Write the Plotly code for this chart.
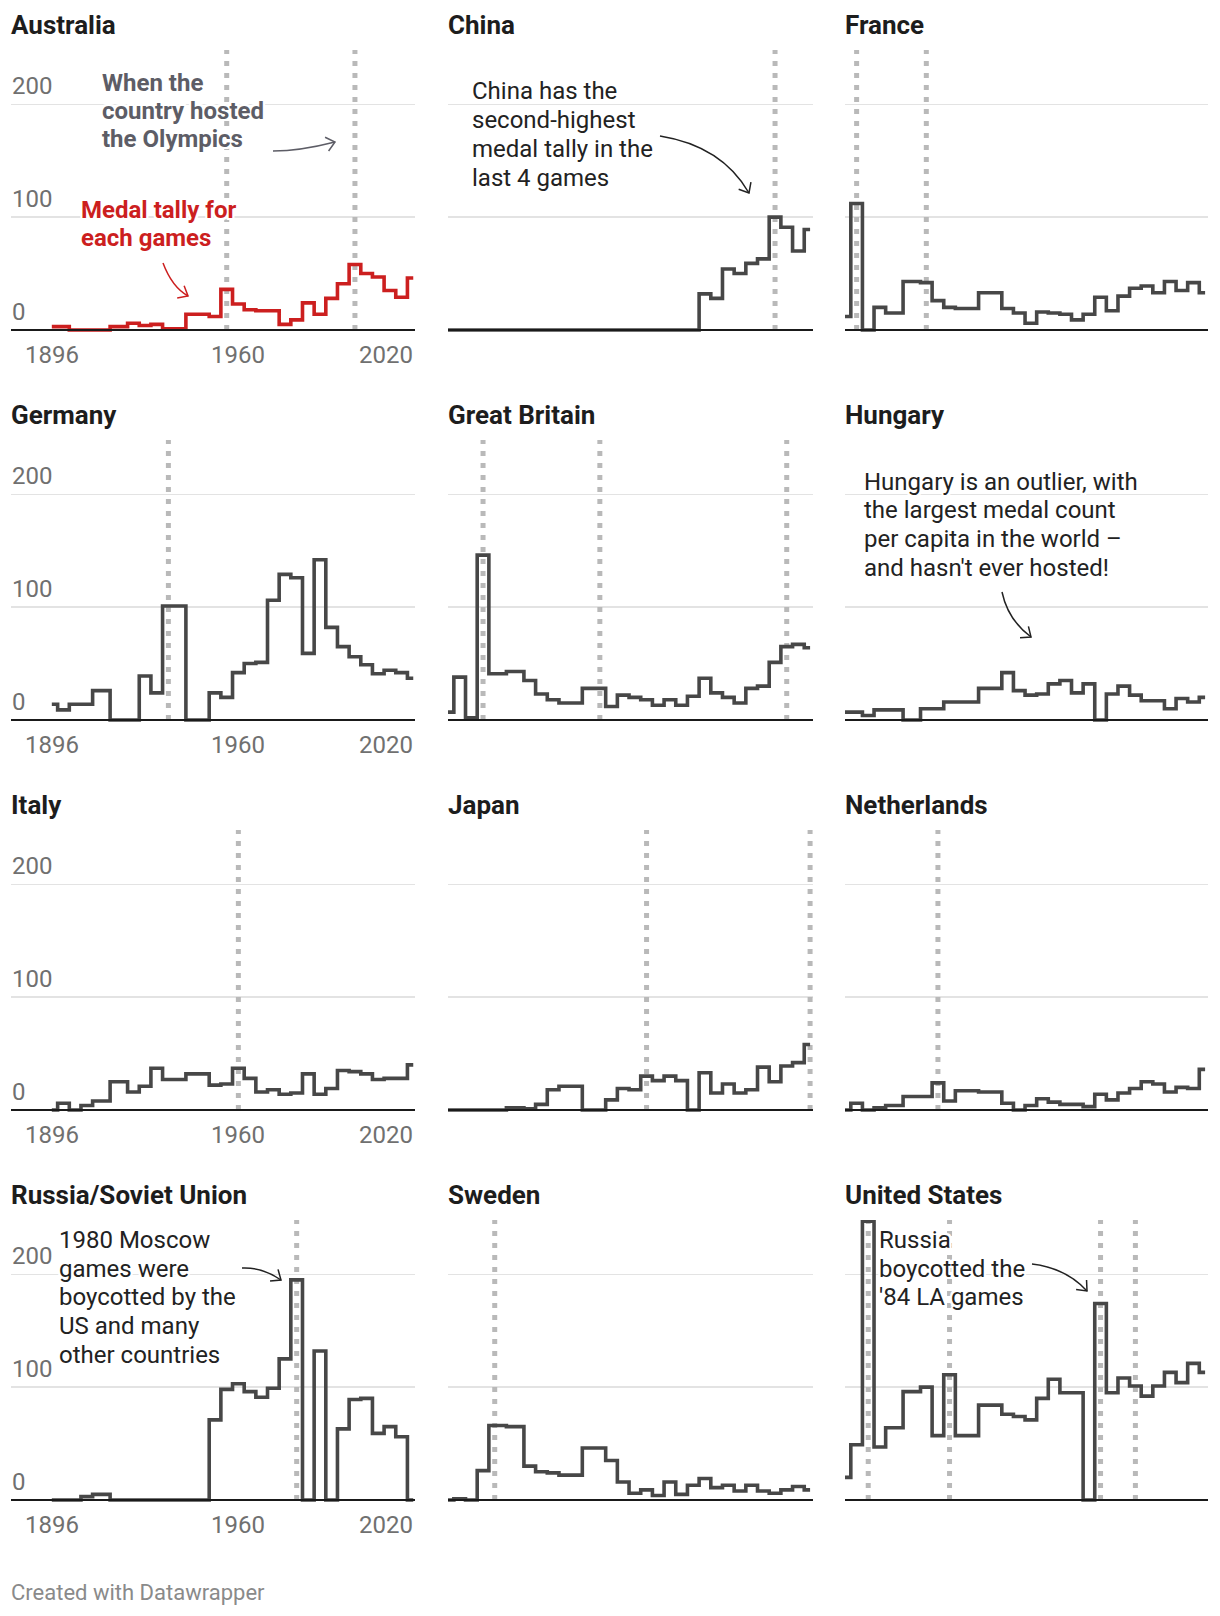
import math
import plotly.graph_objects as go

W, H = 1220, 1616

# ---------------- data ----------------
YEARS = [1896, 1900, 1904, 1908, 1912, 1920, 1924, 1928, 1932, 1936, 1948, 1952,
         1956, 1960, 1964, 1968, 1972, 1976, 1980, 1984, 1988, 1992, 1996, 2000,
         2004, 2008, 2012, 2016, 2020]

COUNTRIES = ["Australia", "China", "France", "Germany", "Great Britain", "Hungary",
             "Italy", "Japan", "Netherlands", "Russia/Soviet Union", "Sweden",
             "United States"]

australia = [3, 3, 0, 0, 0, 3, 6, 4, 5, 1, 14, 12, 36, 23, 18, 17, 17, 5, 9, 24, 14,
             28, 41, 58, 50, 47, 35, 29, 46]
china = [0, 0, 0, 0, 0, 0, 0, 0, 0, 0, 0, 0, 0, 0, 0, 0, 0, 0, 0, 32, 28, 54, 50, 59,
         63, 100, 91, 70, 89]
france = [12, 112, 0, 20, 15, 43, 42, 26, 20, 19, 33, 19, 15, 6, 16, 15, 14, 9, 14, 29,
          17, 30, 37, 39, 33, 43, 35, 42, 33]
germany = [14, 9, 14, 14, 26, 0, 0, 39, 24, 101, 0, 24, 20, 42, 50, 51, 106, 129, 126,
           59, 142, 82, 65, 56, 49, 41, 44, 42, 37]
great_britain = [7, 38, 2, 146, 41, 43, 35, 23, 18, 15, 28, 12, 22, 20, 18, 13, 18, 13,
                 21, 37, 24, 20, 15, 28, 30, 51, 65, 67, 64]
hungary = [7, 7, 4, 9, 9, 0, 10, 10, 16, 16, 28, 42, 26, 22, 23, 32, 35, 24, 32, 0, 23,
           30, 22, 17, 17, 10, 19, 16, 20]
italy = [0, 6, 0, 4, 8, 25, 16, 21, 37, 27, 32, 22, 23, 37, 28, 16, 18, 14, 15, 32, 14,
         19, 35, 34, 32, 27, 28, 28, 40]
japan = [0, 0, 0, 0, 0, 2, 1, 5, 18, 21, 0, 9, 19, 18, 30, 26, 30, 26, 0, 33, 15, 23,
         15, 18, 38, 25, 39, 42, 58]
netherlands = [0, 6, 0, 2, 4, 12, 12, 24, 8, 17, 16, 6, 0, 4, 10, 7, 5, 5, 3, 14, 9, 15,
               19, 25, 23, 16, 20, 19, 36]
russia = [0, 0, 0, 3, 5, 0, 0, 0, 0, 0, 0, 71, 98, 103, 96, 91, 99, 125, 195, 0, 132,
          0, 63, 89, 90, 59, 65, 56, 0]
sweden = [0, 1, 0, 26, 66, 65, 30, 25, 24, 22, 46, 35, 16, 6, 9, 4, 16, 5, 13, 19, 11,
          13, 8, 13, 8, 6, 9, 12, 9]
united_states = [20, 49, 247, 47, 64, 96, 100, 57, 111, 57, 84, 76, 74, 71, 90, 107, 95,
                 95, 0, 174, 95, 108, 101, 92, 101, 113, 104, 121, 113]

HOSTS = {
    "Australia": [1956, 2000],
    "China": [2008],
    "France": [1900, 1924],
    "Germany": [1936],
    "Great Britain": [1908, 1948, 2012],
    "Hungary": [],
    "Italy": [1960],
    "Japan": [1964, 2020],
    "Netherlands": [1928],
    "Russia/Soviet Union": [1980],
    "Sweden": [1912],
    "United States": [1904, 1932, 1984, 1996],
}

SERIES = [australia, china, france, germany, great_britain, hungary, italy, japan,
          netherlands, russia, sweden, united_states]

X_TICKS = [1896, 1960, 2020]
X_TICKTEXT = ["1896", "1960", "2020"]
Y_TICKS = [0, 100, 200]
Y_TICKTEXT = ["0", "100", "200"]
Y_MAX = 248

# ---------------- layout helpers (pixels -> paper) ----------------
COL_PX = [(11, 415), (448, 813), (845, 1208)]
COL_RANGE = [(1882, 2020.6), (1896, 2021), (1896, 2021)]
TITLE_X = [9, 446, 843]
ROW_BASE = [330, 720, 1110, 1500]
PLOT_H = 280
Y_MIN = -3
PX_PER_UNIT = PLOT_H / Y_MAX


def px_x(x):
    return x / W


def px_y(y):
    return 1 - y / H


FONT = "Roboto"
LINE_COLOR = "#474747"
RED = "#cc1f1f"
TICK_COLOR = "#707070"
HOST_COLOR = "#b9b9b9"
HALO = ("2px 2px 0 #fff, -2px -2px 0 #fff, 2px -2px 0 #fff, -2px 2px 0 #fff, "
        "0 2px 0 #fff, 0 -2px 0 #fff, 2px 0 0 #fff, -2px 0 0 #fff")

fig = go.Figure()
layout = dict(
    width=W, height=H, autosize=False,
    margin=dict(l=0, r=0, t=0, b=0, autoexpand=False),
    paper_bgcolor="white", plot_bgcolor="white",
    font=dict(family=FONT, color="#222222"),
    showlegend=False,
)
shapes = []
annotations = []

for i, (name, vals) in enumerate(zip(COUNTRIES, SERIES)):
    r, c = divmod(i, 3)
    n = i + 1
    xs = "x" if n == 1 else f"x{n}"
    ys = "y" if n == 1 else f"y{n}"
    xk = "xaxis" if n == 1 else f"xaxis{n}"
    yk = "yaxis" if n == 1 else f"yaxis{n}"
    base = ROW_BASE[r]
    top = base - PLOT_H
    bottom = base - Y_MIN * PX_PER_UNIT
    x0p, x1p = COL_PX[c]

    fig.add_trace(go.Scatter(
        x=YEARS, y=vals, mode="lines",
        line=dict(shape="hvh", color=RED if name == "Australia" else LINE_COLOR,
                  width=3.6),
        xaxis=xs, yaxis=ys, hoverinfo="skip",
    ))

    layout[xk] = dict(
        domain=[px_x(x0p), px_x(x1p)], range=list(COL_RANGE[c]), anchor=ys,
        showgrid=False, zeroline=False, showline=False, ticks="",
        tickvals=X_TICKS, ticktext=X_TICKTEXT, showticklabels=False,
        automargin=False, fixedrange=True,
    )
    layout[yk] = dict(
        domain=[px_y(bottom), px_y(top)], range=[Y_MIN, Y_MAX], anchor=xs,
        tickvals=Y_TICKS, ticktext=Y_TICKTEXT, showgrid=True,
        gridcolor="#e3e3e3", gridwidth=1.3, zeroline=False, showline=False,
        ticks="", showticklabels=False, automargin=False, fixedrange=True,
    )

    # tick labels (first column only), placed through the axes' scales
    if c == 0:
        for v, t in zip(X_TICKS, X_TICKTEXT):
            last = v == X_TICKS[-1]
            annotations.append(dict(
                text=t, xref=xs, x=v, yref="paper", y=px_y(base + 25),
                xanchor="right" if last else "center", xshift=2 if last else 0,
                yanchor="middle", showarrow=False,
                font=dict(family=FONT, size=24, color=TICK_COLOR),
            ))
        for v, t in zip(Y_TICKS, Y_TICKTEXT):
            annotations.append(dict(
                text=t, xref="paper", x=px_x(10), yref=ys, y=v, yshift=18.5,
                xanchor="left", yanchor="middle", showarrow=False,
                font=dict(family=FONT, size=24, color=TICK_COLOR),
            ))

    # host-year dotted lines
    for hy in HOSTS[name]:
        shapes.append(dict(
            type="line", xref=xs, yref=ys, x0=hy, x1=hy, y0=0, y1=Y_MAX,
            line=dict(color=HOST_COLOR, width=5, dash="5px,7px"), layer="between",
        ))
    # baseline
    shapes.append(dict(
        type="line", xref=f"{xs} domain", yref=ys, x0=0, x1=1, y0=0, y1=0,
        line=dict(color="#1a1a1a", width=2), layer="above",
    ))

    # panel title
    annotations.append(dict(
        text=name, xref="paper", yref="paper", x=px_x(TITLE_X[c]),
        y=px_y(25 + 390 * r), xanchor="left", yanchor="middle", showarrow=False,
        font=dict(family=FONT, size=26, color="#1d1d1d", weight=700),
    ))


def note(lines, left, first, step=28.7, color="#222222", weight=400, size=24):
    for k, t in enumerate(lines):
        annotations.append(dict(
            text=t, xref="paper", yref="paper", x=px_x(left),
            y=px_y(first + k * step), xanchor="left", yanchor="middle",
            align="left", showarrow=False,
            font=dict(family=FONT, size=size, color=color, weight=weight,
                      shadow=HALO),
        ))


def arrow(p0, ctrl, p1, color="#222222", width=1.5, head=11, ang=40):
    dx, dy = p1[0] - ctrl[0], p1[1] - ctrl[1]
    L = math.hypot(dx, dy)
    bx, by = -dx / L, -dy / L
    arms = []
    for s in (1, -1):
        a = math.radians(ang * s)
        rx = bx * math.cos(a) - by * math.sin(a)
        ry = bx * math.sin(a) + by * math.cos(a)
        arms.append((p1[0] + head * rx, p1[1] + head * ry))

    def P(q):
        return f"{px_x(q[0]):.5f},{px_y(q[1]):.5f}"

    for path in (f"M {P(p0)} Q {P(ctrl)} {P(p1)}",
                 f"M {P(arms[0])} L {P(p1)} L {P(arms[1])}"):
        shapes.append(dict(type="path", xref="paper", yref="paper", path=path,
                           line=dict(color=color, width=width),
                           fillcolor="rgba(0,0,0,0)", layer="above"))


# Australia
note(["When the", "country hosted", "the Olympics"], 100, 82.5, step=28.4,
     color="#5d5d66", weight=700)
arrow((273, 151), (300, 151), (335, 142), color="#5d5d66")
note(["Medal tally for", "each games"], 79, 209.5, step=28.5, color=RED, weight=700)
arrow((163, 263), (172, 287), (188, 296), color=RED)
# China
note(["China has the", "second-highest", "medal tally in the", "last 4 games"],
     470, 91.5)
arrow((660, 136), (722, 146), (749, 193))
# Hungary
note(["Hungary is an outlier, with", "the largest medal count",
      "per capita in the world \u2013", "and hasn't ever hosted!"], 862, 481.5)
arrow((1002, 592), (1008, 620), (1031, 637))
# Russia
note(["1980 Moscow", "games were", "boycotted by the", "US and many",
      "other countries"], 57, 1240)
arrow((242, 1268), (262, 1267), (281, 1280))
# United States
note(["Russia", "boycotted the", "'84 LA games"], 877, 1240)
arrow((1032, 1264), (1066, 1268), (1087, 1291))

# footer
annotations.append(dict(
    text="Created with Datawrapper", xref="paper", yref="paper", x=px_x(9),
    y=px_y(1592), xanchor="left", yanchor="middle", showarrow=False,
    font=dict(family=FONT, size=22, color="#8a8a8a"),
))

layout["shapes"] = shapes
layout["annotations"] = annotations
fig.update_layout(**layout)

fig.write_html(
    "out.html",
    config={"displayModeBar": False, "staticPlot": True},
    post_script="document.body.style.margin='0';document.body.style.overflow='hidden';",
)
